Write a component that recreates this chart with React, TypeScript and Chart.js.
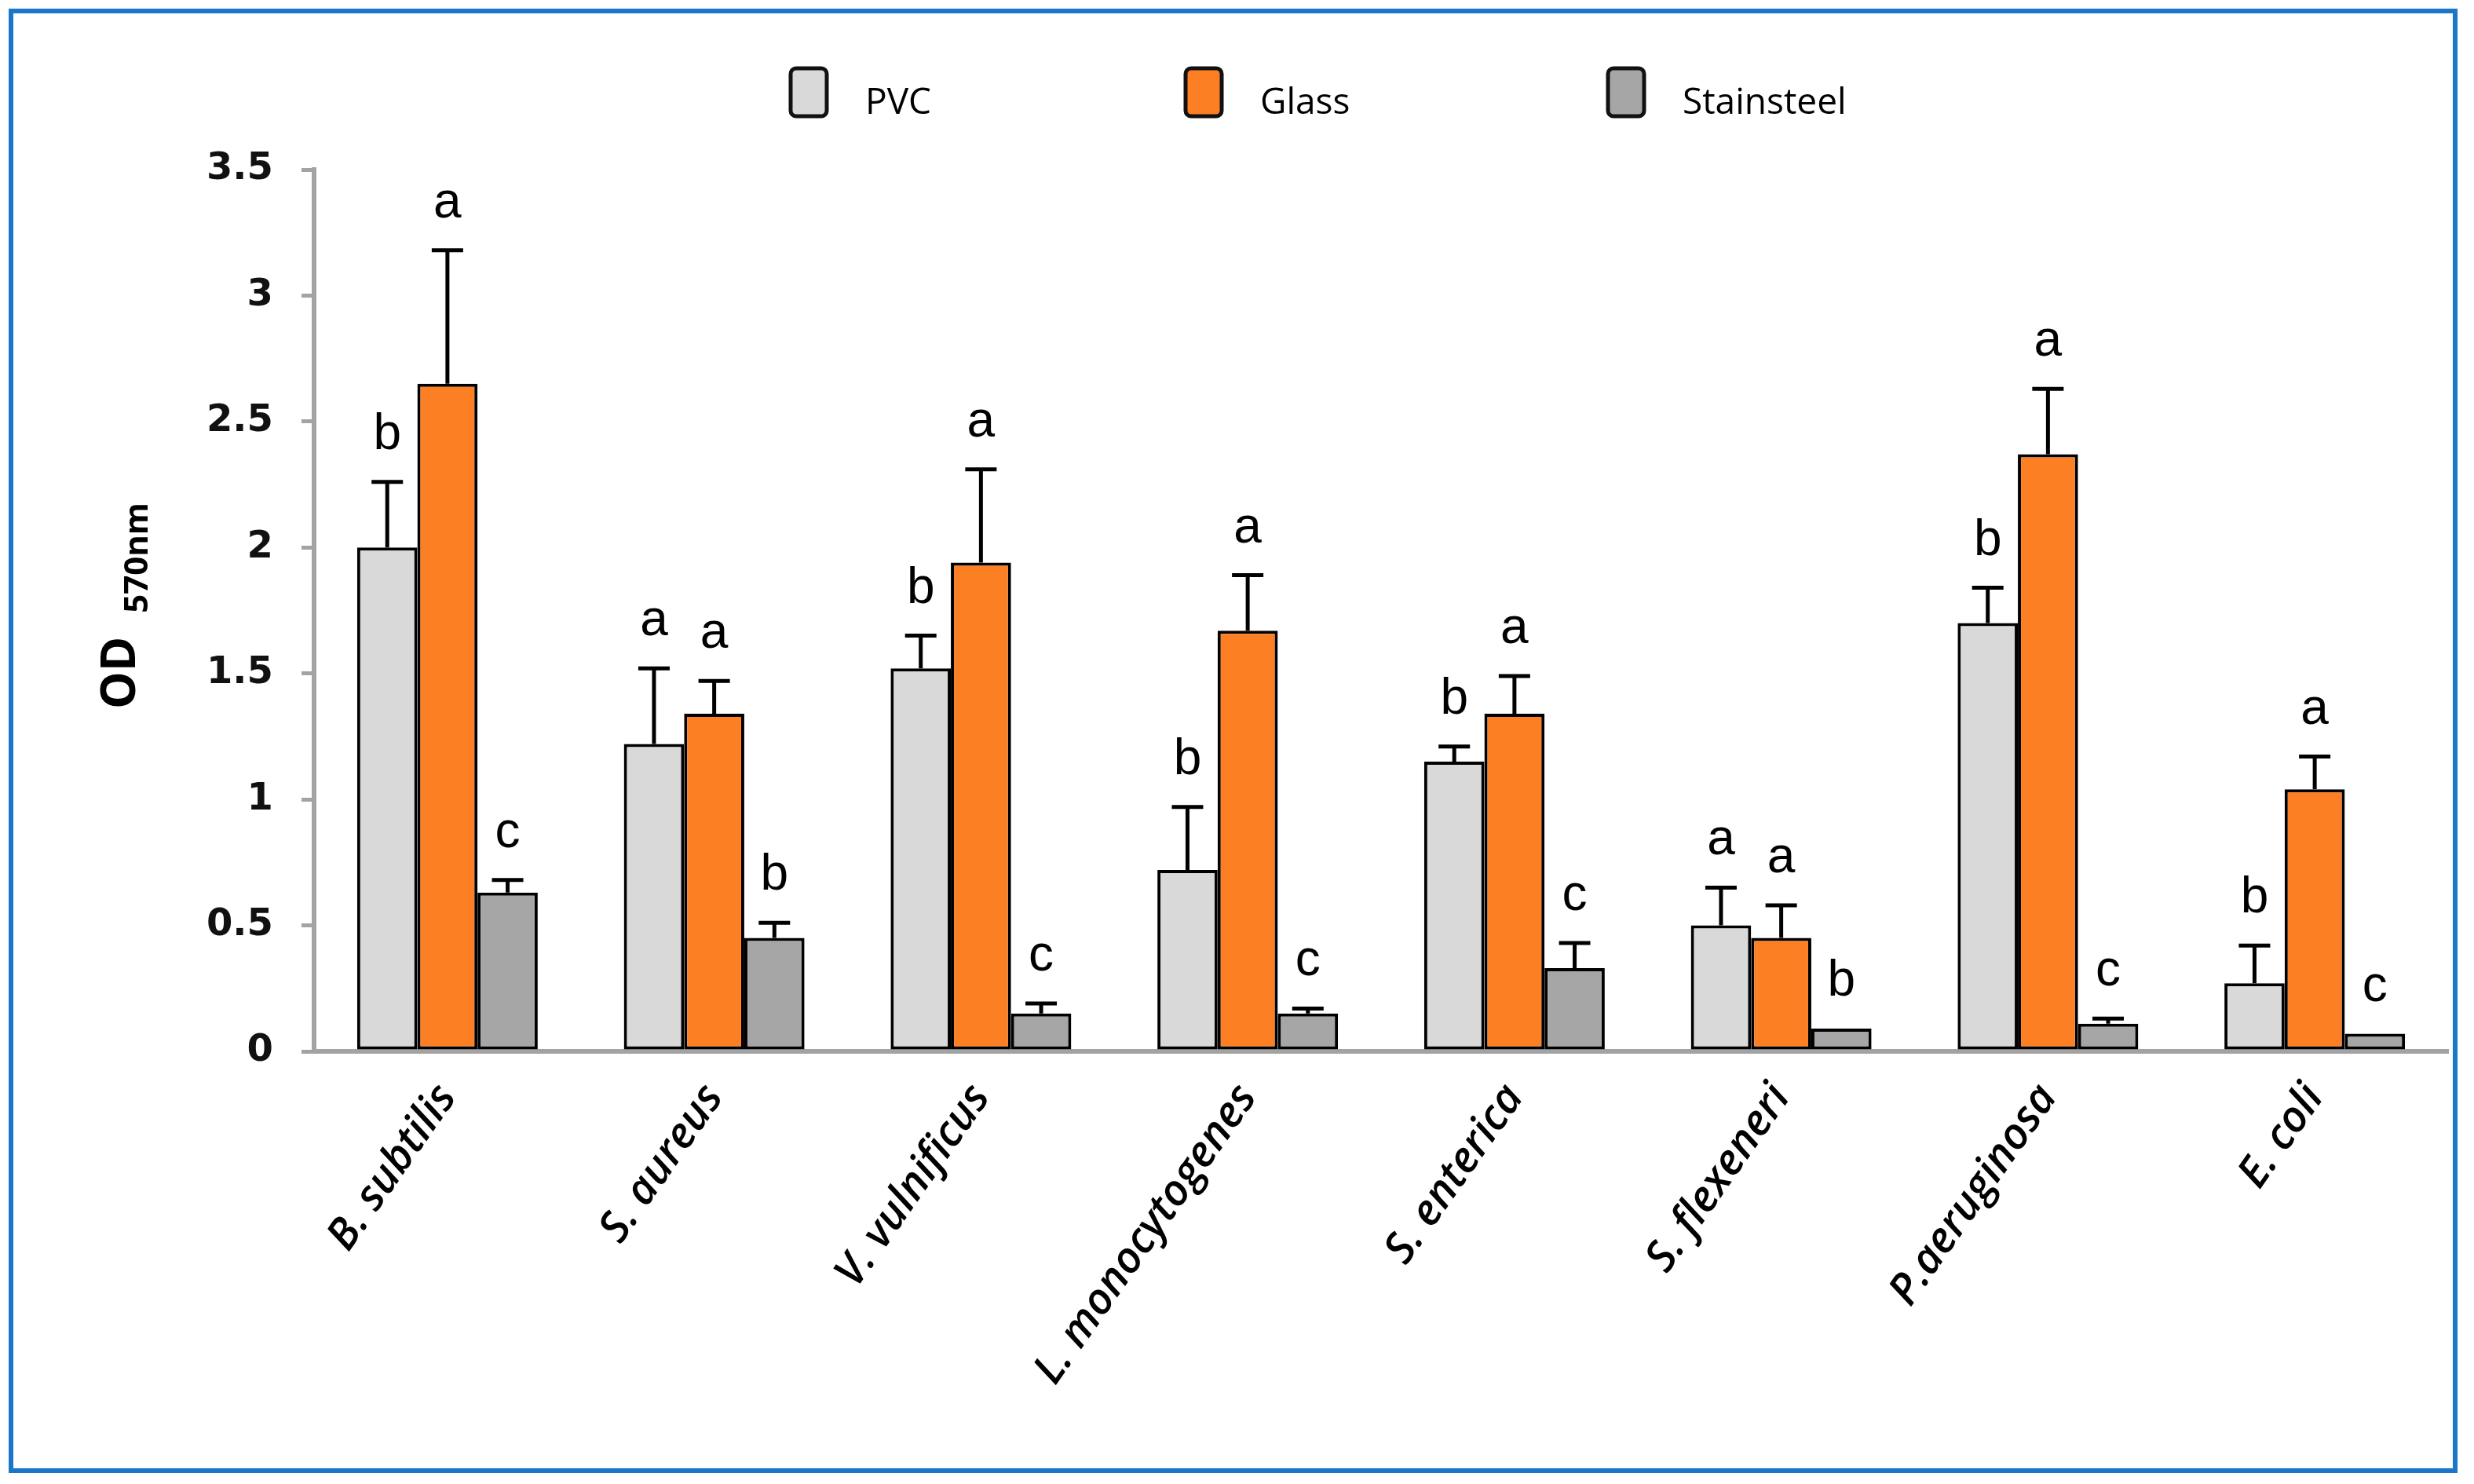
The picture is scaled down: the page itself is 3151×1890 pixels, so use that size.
import React, { useEffect, useRef } from 'react';
import { Chart, registerables } from 'chart.js';

Chart.register(...registerables);

const categories = ['B. subtilis', 'S. aureus', 'V. vulnificus', 'L. monocytogenes', 'S. enterica', 'S. flexeneri', 'P.aeruginosa', 'E. coli'];
const seriesNames = ['PVC', 'Glass', 'Stainsteel'];
const seriesColors = ['#d9d9d9', '#fd7f24', '#a6a6a6'];

const pvcValues = [2.0, 1.22, 1.52, 0.72, 1.15, 0.5, 1.7, 0.27];
const pvcErrors = [0.26, 0.3, 0.13, 0.25, 0.06, 0.15, 0.14, 0.15];
const pvcLetters = ['b', 'a', 'b', 'b', 'b', 'a', 'b', 'b'];

const glassValues = [2.65, 1.34, 1.94, 1.67, 1.34, 0.45, 2.37, 1.04];
const glassErrors = [0.53, 0.13, 0.37, 0.22, 0.15, 0.13, 0.26, 0.13];
const glassLetters = ['a', 'a', 'a', 'a', 'a', 'a', 'a', 'a'];

const steelValues = [0.63, 0.45, 0.15, 0.15, 0.33, 0.09, 0.11, 0.07];
const steelErrors = [0.05, 0.06, 0.04, 0.02, 0.1, 0, 0.02, 0];
const steelLetters = ['c', 'b', 'c', 'c', 'c', 'b', 'c', 'c'];

const yMin = 0;
const yMax = 3.5;
const yStep = 0.5;

const W = 3151;
const H = 1890;

const errorBarPlugin = {
  id: 'errorBarsLetters',
  afterDatasetsDraw(chart: any) {
    const ctx = chart.ctx;
    const yScale = chart.scales.y;
    chart.data.datasets.forEach((ds: any, di: number) => {
      const meta = chart.getDatasetMeta(di);
      meta.data.forEach((el: any, i: number) => {
        const v = ds.data[i];
        const e = ds.errors[i] || 0;
        const yTop = yScale.getPixelForValue(v + e);
        ctx.save();
        ctx.strokeStyle = '#000';
        ctx.lineWidth = 5;
        if (e > 0) {
          ctx.beginPath();
          ctx.moveTo(el.x, el.y);
          ctx.lineTo(el.x, yTop);
          ctx.moveTo(el.x - 20, yTop);
          ctx.lineTo(el.x + 20, yTop);
          ctx.stroke();
        }
        ctx.fillStyle = '#000';
        ctx.font = '64px "Liberation Sans", Arial, sans-serif';
        ctx.textAlign = 'center';
        ctx.textBaseline = 'alphabetic';
        ctx.fillText(ds.letters[i], el.x, yTop - 42);
        ctx.restore();
      });
    });
  },
};

const legendPlugin = {
  id: 'customLegend',
  afterDraw(chart: any) {
    const ctx = chart.ctx;
    const boxX = [1007, 1510, 2048];
    chart.data.datasets.forEach((ds: any, i: number) => {
      const x = boxX[i];
      const y = 87;
      const w = 46;
      const h = 61;
      ctx.save();
      ctx.beginPath();
      if (ctx.roundRect) ctx.roundRect(x, y, w, h, 7);
      else ctx.rect(x, y, w, h);
      ctx.fillStyle = ds.backgroundColor;
      ctx.fill();
      ctx.lineWidth = 5;
      ctx.strokeStyle = '#111';
      ctx.stroke();
      ctx.fillStyle = '#000';
      ctx.font = '46px "Open Sans", sans-serif';
      ctx.textAlign = 'left';
      ctx.textBaseline = 'alphabetic';
      ctx.fillText(ds.label, x + 95, 145);
      ctx.restore();
    });
  },
};

const yTitlePlugin = {
  id: 'yTitle',
  afterDraw(chart: any) {
    const ctx = chart.ctx;
    ctx.save();
    ctx.translate(172, 903);
    ctx.rotate(-Math.PI / 2);
    ctx.fillStyle = '#000';
    ctx.textAlign = 'left';
    ctx.textBaseline = 'alphabetic';
    ctx.font = 'bold 60px "Open Sans", sans-serif';
    ctx.fillText('OD', 0, 0);
    const w = ctx.measureText('OD').width;
    ctx.font = 'bold 42px "Open Sans", sans-serif';
    ctx.fillText('570nm', w + 30, 16);
    ctx.restore();
  },
};

export default function App() {
  const canvasRef = useRef<HTMLCanvasElement | null>(null);

  useEffect(() => {
    const canvas = canvasRef.current;
    if (!canvas) return;
    const valuesList = [pvcValues, glassValues, steelValues];
    const errorsList = [pvcErrors, glassErrors, steelErrors];
    const lettersList = [pvcLetters, glassLetters, steelLetters];
    const chart = new Chart(canvas, {
      type: 'bar',
      data: {
        labels: categories,
        datasets: seriesNames.map((name, i) => ({
          label: name,
          data: valuesList[i],
          errors: errorsList[i],
          letters: lettersList[i],
          backgroundColor: seriesColors[i],
          borderColor: '#000',
          borderWidth: 4,
          borderSkipped: false,
          barPercentage: 1,
          categoryPercentage: 0.677,
        })) as any,
      },
      options: {
        responsive: false,
        animation: false,
        devicePixelRatio: 1,
        layout: { padding: { left: 0, top: 216, right: 33, bottom: 0 } },
        plugins: {
          legend: { display: false },
          tooltip: { enabled: false },
          title: { display: false },
        },
        scales: {
          x: {
            grid: { display: false, drawTicks: false, tickLength: 0 },
            border: { display: true, color: '#a3a3a3', width: 6 },
            ticks: {
              color: '#000',
              minRotation: 55,
              maxRotation: 55,
              autoSkip: false,
              padding: 30,
              font: { family: '"Open Sans", sans-serif', style: 'italic', weight: '600', size: 55 },
            },
            afterFit(axis: any) {
              axis.height = H - 1339;
            },
          },
          y: {
            min: yMin,
            max: yMax,
            grid: { display: true, drawOnChartArea: false, drawTicks: true, tickLength: 16, color: '#a3a3a3', lineWidth: 5 },
            border: { display: true, color: '#a3a3a3', width: 6 },
            ticks: {
              stepSize: yStep,
              color: '#111',
              padding: 36,
              font: { family: '"DejaVu Sans", sans-serif', weight: 'bold', size: 48 },
              callback: (value: any) => String(value),
            },
            afterFit(axis: any) {
              axis.width = 400;
            },
          },
        },
      } as any,
      plugins: [errorBarPlugin, legendPlugin, yTitlePlugin],
    });
    return () => chart.destroy();
  }, []);

  return (
    <div style={{ position: 'fixed', left: 0, top: 0, width: W, height: H, background: '#fff' }}>
      <canvas ref={canvasRef} width={W} height={H} style={{ position: 'absolute', left: 0, top: 0, width: W, height: H }} />
      <div
        style={{
          position: 'absolute',
          left: 11,
          top: 11,
          width: 3119,
          height: 1865,
          border: '6px solid #1976c9',
          boxSizing: 'border-box',
          pointerEvents: 'none',
        }}
      />
    </div>
  );
}
